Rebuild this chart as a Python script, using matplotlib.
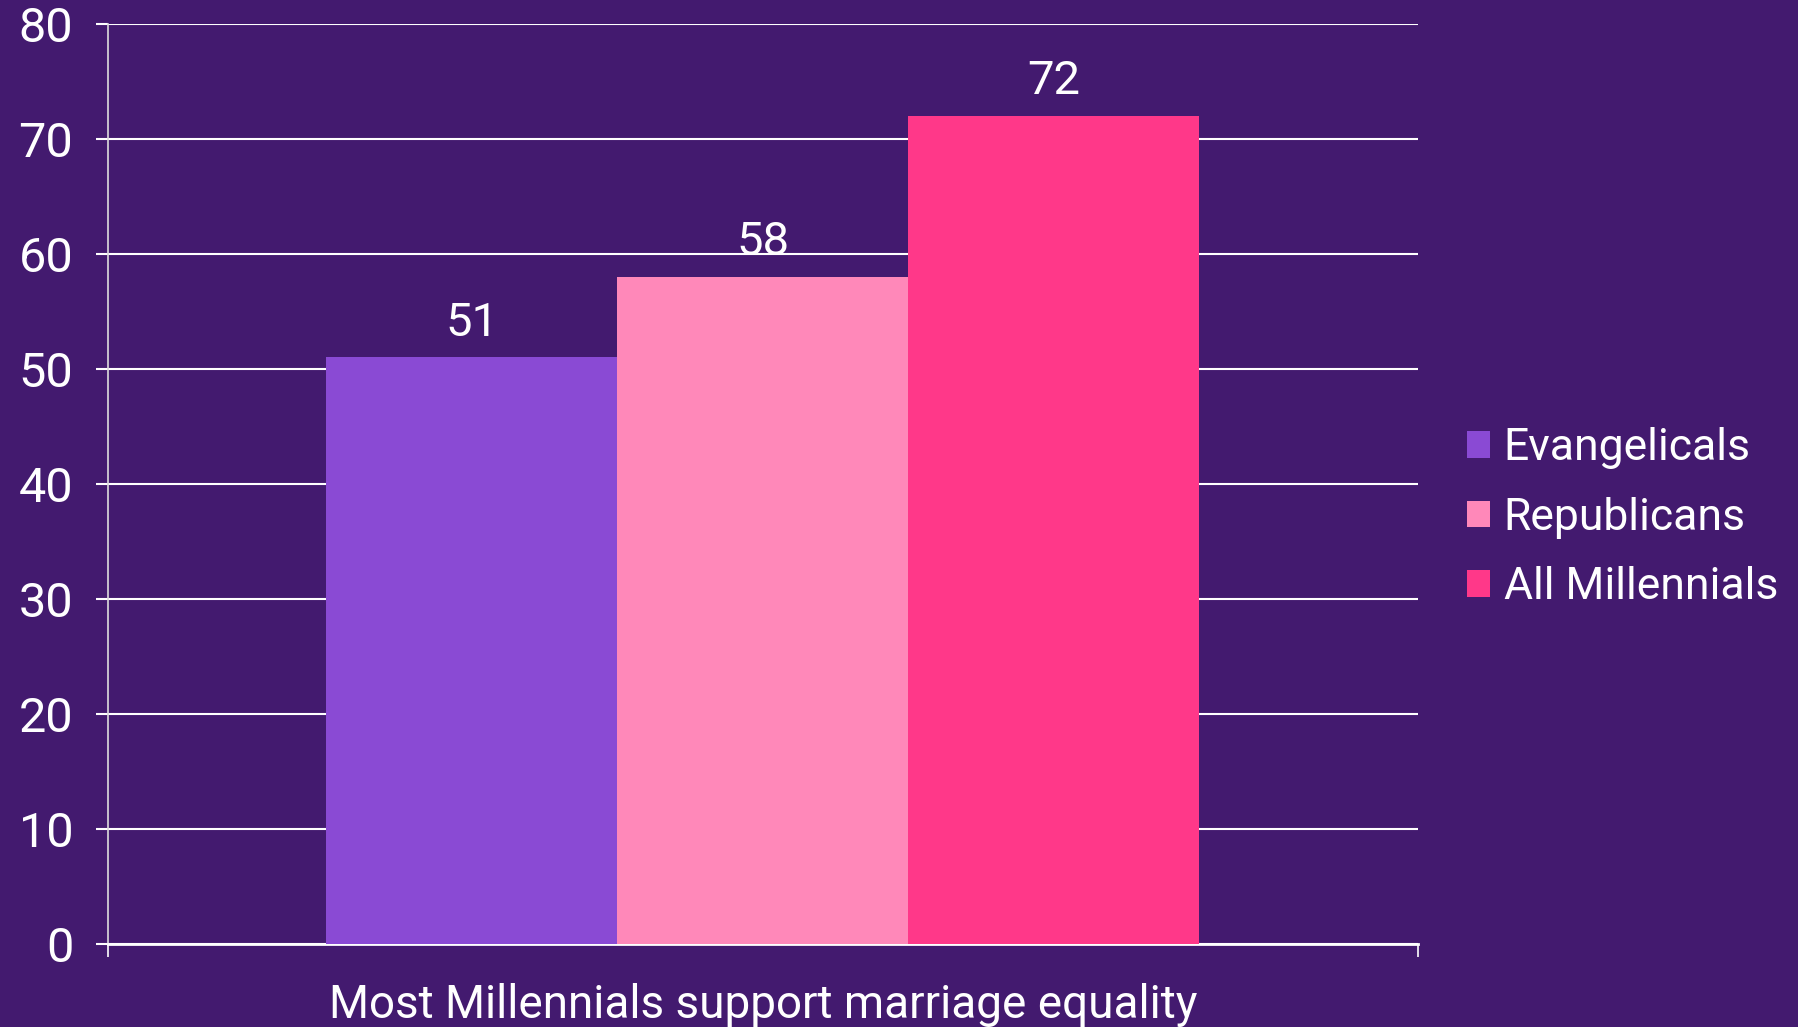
import matplotlib

matplotlib.use("Agg")
import matplotlib.pyplot as plt

plt.rcParams["font.family"] = ["Roboto", "DejaVu Sans"]

BG = "#431a6f"
FG = "white"

category = "Most Millennials support marriage equality"
series = ["Evangelicals", "Republicans", "All Millennials"]
values = [51, 58, 72]
colors = ["#8a4ad4", "#ff88b9", "#ff3889"]
y_ticks = [0, 10, 20, 30, 40, 50, 60, 70, 80]

fig = plt.figure(figsize=(17.99, 10.27), dpi=100, facecolor=BG)
ax = fig.add_axes([0.060, 0.081, 0.728, 0.896], facecolor=BG)

bar_w = 0.2223
offsets = [-bar_w, 0.0, bar_w]
for name, val, col, off in zip(series, values, colors, offsets):
    bars = ax.bar(off, val, width=bar_w, color=col, label=name, zorder=3)
    ax.bar_label(bars, labels=[f"{val}"], padding=9, color=FG, fontsize=34)

ax.set_xlim(-0.5, 0.5)
ax.set_ylim(0, 80)
ax.set_yticks(y_ticks)
ax.set_xticks([-0.5, 0.5])
ax.set_xticklabels(["", ""])
ax.yaxis.grid(True, color=FG, linewidth=1.5, zorder=1)
ax.set_axisbelow(True)

for side in ["top", "right"]:
    ax.spines[side].set_visible(False)
ax.spines["left"].set_color("#dddddd")
ax.spines["left"].set_linewidth(1.2)
ax.spines["bottom"].set_color(FG)
ax.spines["bottom"].set_linewidth(2.0)

ax.tick_params(axis="y", colors=FG, labelsize=35, length=9, width=1.5, pad=16)
ax.tick_params(axis="x", colors=FG, length=9, width=1.2)
for lab in ax.get_yticklabels():
    lab.set_color(FG)

ax.set_xlabel(category, color=FG, fontsize=33, labelpad=16)

leg = ax.legend(
    loc="center left",
    bbox_to_anchor=(1.007, 0.463),
    frameon=False,
    fontsize=32,
    labelcolor=FG,
    handlelength=0.53,
    handleheight=0.53,
    handletextpad=0.3,
    labelspacing=0.62,
)

fig.savefig("out.png", dpi=100, facecolor=BG)
